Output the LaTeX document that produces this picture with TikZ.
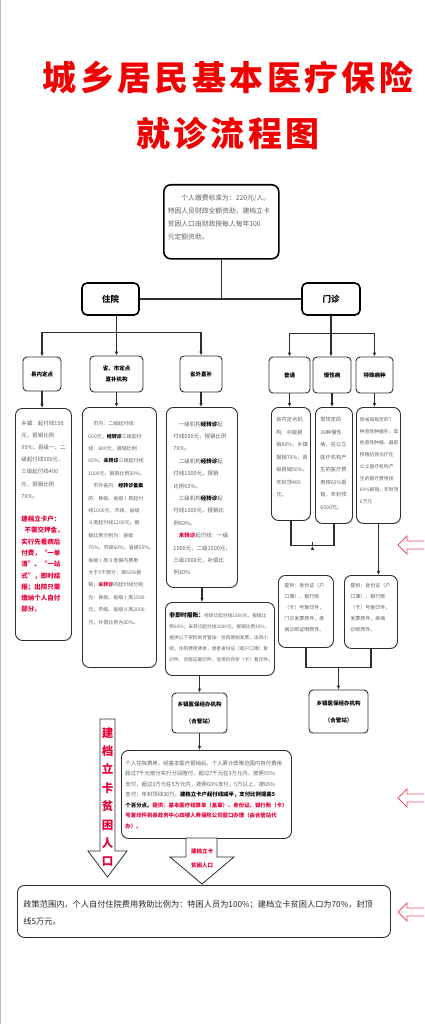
\documentclass[tikz,border=0pt]{standalone}
\usepackage{fontspec}
\newfontfamily\cjk{Noto Sans CJK SC}
\usetikzlibrary{arrows.meta,calc}

\definecolor{titlered}{RGB}{240,0,0}
\definecolor{notered}{RGB}{230,0,55}
\definecolor{txtgray}{RGB}{95,95,95}
\definecolor{linegray}{RGB}{45,45,45}
\definecolor{pinkarrow}{RGB}{235,80,105}

\newcommand{\boxtxt}[3]{\parbox[c][#2][t]{#1}{#3}}

\begin{document}
\begin{tikzpicture}
[x=1pt,y=-1pt,
 maintitle/.style={text=titlered,inner sep=0pt,font=\cjk\bfseries\fontsize{34}{36}\selectfont},
 headbox/.style={draw=black,line width=1.6pt,rounded corners=5pt,fill=white,
   inner sep=0pt,font=\cjk\bfseries\fontsize{8.5}{10}\selectfont},
 catbox/.style={draw=linegray,line width=0.9pt,rounded corners=4pt,inner sep=0pt,
   align=center,font=\cjk\bfseries\fontsize{5.5}{11}\selectfont},
 textbox/.style={draw=linegray,line width=0.9pt,rounded corners=7pt,anchor=north west,
   inner ysep=10pt,text=txtgray},
 link/.style={draw=linegray,line width=1.1pt},
 arr/.style={link,-{Latex[length=4pt,width=3.5pt]}},
 blockarrow/.style={draw=linegray,line width=0.8pt,fill=white},
 redword/.style={text=notered,inner sep=0pt,align=center}]
  \useasboundingbox (0,0) rectangle (424,1024);
  \draw[gray!55,line width=1pt] (0.5,0) -- (0.5,1024);

  % title
  \node[maintitle] (title1) at (228,77) {\addfontfeature{LetterSpace=10}城乡居民基本医疗保险};
  \node[maintitle] (title2) at (228,134) {\addfontfeature{LetterSpace=10}就诊流程图};

  % top box
  \node[textbox,draw=black,line width=1.6pt,inner xsep=4pt,font=\cjk\fontsize{6.8}{13}\selectfont] (topbox) at (163,184)
    {\boxtxt{107pt}{54pt}{\hspace*{2em}个人缴费标准为：220元/人。\\特困人员财政全额资助，建档立卡\\贫困人口由财政按每人每年100\\元定额资助。}};

  \node[headbox,minimum width=57pt,minimum height=32pt] (zhuyuan) at (110.5,299) {住院};
  \node[headbox,minimum width=58pt,minimum height=32pt] (menzhen) at (331,299) {门诊};

  % second level
  \node[catbox,minimum width=38pt,minimum height=34pt] (xiannei) at (42,374) {县内定点};
  \node[catbox,minimum width=53pt,minimum height=36pt] (shengshi) at (116.5,374) {省、市定点\\直补机构};
  \node[catbox,minimum width=42pt,minimum height=36pt] (shengwai) at (201,374) {省外直补};
  \node[catbox,minimum width=41pt,minimum height=36pt] (putong) at (289.5,375) {普通};
  \node[catbox,minimum width=38pt,minimum height=36pt] (manxing) at (332,375) {慢性病};
  \node[catbox,minimum width=37pt,minimum height=36pt] (teshu) at (374.5,375) {特殊病种};

  % 住院 text boxes
  \node[textbox,inner xsep=6pt,font=\cjk\fontsize{5.5}{12.2}\selectfont] (t_xiannei) at (15,408)
    {\boxtxt{44pt}{212pt}{\vspace*{2pt}乡镇：起付线150\\元，报销比例\\90\%；县级一、二\\级起付线300元，\\三级起付线400\\元，报销比例\\70\%。\par\vspace{12pt}
     {\color{notered}\bfseries\fontsize{6.5}{11.3}\selectfont 建档立卡户：\\\hspace*{0.5em}不需交押金，\\实行先看病后\\付费，“一单\\清”、“一站\\式”，即时结\\报；出院只需\\缴纳个人自付\\部分。\par}}};
  \node[textbox,inner xsep=6pt,font=\cjk\fontsize{5}{12.4}\selectfont] (t_shengshi) at (82,407)
    {\boxtxt{62pt}{240pt}{\vspace*{4pt}\hspace*{1em}市内：二级起付线：\\600元；{\color{black}\bfseries 经转诊}三级起付\\线：800元，报销比例\\65\%；{\color{black}\bfseries 未转诊}三级起付线\\1000元，报销比例30\%。\\
     \hspace*{1em}市外省内：{\color{black}\bfseries 经转诊备案}\\的：县级、省级Ⅰ类起付\\线1000元，市级、省级\\Ⅱ类起付线1200元；报\\销比例分别为：县级\\70\%，市级60\%，省级55\%。\\省级Ⅰ类Ⅱ类保内费用\\大于5千部分，按65\%报\\销；{\color{notered}\bfseries 未转诊}的起付线分别\\为：县级、省级Ⅰ类1500\\元，市级、省级Ⅱ类2000\\元，补偿比例为30\%。}};
  \node[textbox,inner xsep=7pt,font=\cjk\fontsize{5.5}{12.4}\selectfont] (t_shengwai) at (166,407)
    {\boxtxt{57pt}{160pt}{\vspace*{4pt}\hspace*{1em}一级机构{\color{black}\bfseries 经转诊}起\\付线500元，报销比例\\70\%。\\\hspace*{1em}二级机构{\color{black}\bfseries 经转诊}起\\付线1000元，报销\\比例65\%。\\\hspace*{1em}三级机构{\color{black}\bfseries 经转诊}起\\付线1500元，报销比\\例60\%。\\
     \hspace*{1em}{\color{notered}\bfseries 未转诊}起付线：一级\\1000元，二级1500元，\\三级2000元，补偿比\\例30\%}};
  \node[textbox,inner xsep=4pt,font=\cjk\fontsize{4.7}{11}\selectfont] (feijishi) at (165,602)
    {\boxtxt{101pt}{53pt}{{\color{black}\bfseries\fontsize{5.8}{11}\selectfont 非即时报账：}经转诊起付线1500元，报销比\\例60\%；未转诊起付线2000元，报销比例30\%，\\提供以下资料到合管站：住院原始发票，出院小\\结，住院费用清单，患者身份证（或户口簿）复\\印件，合医证复印件，信用社存折（卡）复印件。}};
  \node[catbox,minimum width=55pt,minimum height=40pt,font=\cjk\bfseries\fontsize{5.5}{17}\selectfont] (xiangzhen1) at (199.5,713) {乡镇医保经办机构\\（合管站）};
  \node[textbox,inner xsep=4pt,font=\cjk\fontsize{5.4}{10.5}\selectfont] (bigbox) at (121,750)
    {\boxtxt{162pt}{68pt}{个人住院费用，经基本医疗报销后，个人累计政策范围内自付费用\\超过7千元部分实行分段赔付，超过7千元在3万元内，按照55\%\\支付，超过3万元在5万元内，按照60\%支付，5万以上，按65\%\\支付；年封顶线30万。{\color{black}\bfseries 建档立卡户起付线减半，支付比例提高5}\\
     {\color{black}\bfseries 个百分点。}{\color{notered}\bfseries 提供：基本医疗结算单（盖章）、身份证、银行账（卡）}\\{\color{notered}\bfseries 号复印件到县政务中心四楼人寿保险公司窗口办理（由合管站代}\\{\color{notered}\bfseries 办）。}}};

  % 门诊 text boxes
  \node[textbox,inner xsep=5pt,font=\cjk\fontsize{5.2}{12.5}\selectfont] (t_putong) at (271,407)
    {\boxtxt{29pt}{93pt}{县内定点机\\构：村级报\\销80\%，乡镇\\报销70\%，县\\级报销50\%，\\年封顶400\\元。}};
  \node[textbox,inner xsep=5pt,font=\cjk\fontsize{5.2}{12.5}\selectfont] (t_manxing) at (315,407)
    {\boxtxt{27pt}{96pt}{患规定的\\36种慢性\\病，在公立\\医疗机构产\\生的医疗费\\用按60\%报\\销，年封顶\\6000元。}};
  \node[textbox,inner xsep=3.5pt,font=\cjk\fontsize{4.8}{11.7}\selectfont] (t_teshu) at (356,407)
    {\boxtxt{37pt}{96pt}{除省级规定的7\\种恶性肿瘤外，其\\他恶性肿瘤、器官\\移植抗排治疗在\\公立医疗机构产\\生的医疗费用按\\60\%报销，年封顶\\6万元}};
  \node[textbox,inner xsep=6pt,inner ysep=8pt,font=\cjk\fontsize{5}{11}\selectfont] (tigong1) at (278,575)
    {\boxtxt{43pt}{56pt}{提供：身份证（户\\口簿）、银行账\\（卡）号复印件，\\门诊发票原件，疾\\病诊断证明原件。}};
  \node[textbox,inner xsep=6pt,inner ysep=8pt,font=\cjk\fontsize{5}{11}\selectfont] (tigong2) at (344,575)
    {\boxtxt{41pt}{57pt}{提供：身份证（户\\口簿）、银行账\\（卡）号复印件，\\发票原件，疾病\\诊断原件。}};
  \node[catbox,minimum width=59pt,minimum height=43pt,font=\cjk\bfseries\fontsize{5.5}{17}\selectfont] (xiangzhen2) at (338.5,711.5) {乡镇医保经办机构\\（合管站）};

  % bottom box
  \node[textbox,inner xsep=6pt,text=black!85,font=\cjk\fontsize{8.2}{17}\selectfont] (bottombox) at (17,885)
    {\boxtxt{361pt}{32pt}{\vspace*{5pt}政策范围内，个人自付住院费用救助比例为：特困人员为100\%；建档立卡贫困人口为70\%，封顶\\线5万元。}};

  % connectors
  \draw[link] (topbox.south) -- (topbox.south |- zhuyuan.east);
  \draw[link] (zhuyuan.east) -- (menzhen.west);
  \coordinate (zyfork) at ($(zhuyuan.south -| shengshi.north)+(0,17)$);
  \draw[arr] (zhuyuan.south -| shengshi.north) -- (shengshi.north);
  \draw[arr] (zyfork) -| (xiannei.north);
  \draw[arr] (zyfork) -| (shengwai.north);
  \draw[arr] (xiannei.south) -- (xiannei.south |- t_xiannei.north);
  \draw[arr] (shengshi.south) -- (shengshi.south |- t_shengshi.north);
  \draw[arr] (shengwai.south) -- (shengwai.south |- t_shengwai.north);
  \draw[arr] (t_shengwai.south) -- (t_shengwai.south |- feijishi.north);
  \draw[arr] (xiangzhen1.north |- feijishi.south) -- (xiangzhen1.north);
  \draw[arr] (xiangzhen1.south) -- (xiangzhen1.south |- bigbox.north);

  \coordinate (mzfork) at ($(menzhen.south)+(0,18)$);
  \draw[arr] (menzhen.south) -- (menzhen.south |- manxing.north);
  \draw[arr] (mzfork) -| (putong.north);
  \draw[arr] (mzfork) -| (teshu.north);
  \draw[arr] (putong.south) -- (putong.south |- t_putong.north);
  \draw[arr] (manxing.south) -- (manxing.south |- t_manxing.north);
  \draw[arr] (teshu.south) -- (teshu.south |- t_teshu.north);
  \draw[link] (t_putong.south) -- ++(0,25) coordinate (pmjoin) -| (t_manxing.south);
  \draw[arr] ($(pmjoin)!0.5!(pmjoin -| t_manxing.south)$) -- ($(pmjoin)!0.5!(pmjoin -| t_manxing.south)$ |- tigong1.north);
  \draw[arr] (t_teshu.south) -- (t_teshu.south |- tigong2.north);
  \draw[link] (tigong1.south) -- ++(0,20) coordinate (tgjoin) -| (tigong2.south);
  \draw[arr] (tgjoin -| xiangzhen2.north) -- (xiangzhen2.north);

  % block arrows
  \draw[blockarrow] (100,719) -- (115,719) -- (115,851) -- (127,851) -- (107.5,877)
    -- (88,851) -- (100,851) -- cycle;
  \node[redword,font=\cjk\bfseries\fontsize{11.5}{18.4}\selectfont] (pkleft) at (107.5,797)
    {建\\档\\立\\卡\\贫\\困\\人\\口};
  \draw[blockarrow] (186,838) -- (217,838) -- (217,857) -- (234,857) -- (202,884)
    -- (170,857) -- (186,857) -- cycle;
  \node[redword,font=\cjk\bfseries\fontsize{5.5}{14}\selectfont] (pkmid) at (202,858) {建档立卡\\贫困人口};

  % side arrows
  \foreach \ya in {545,798,912}
    \draw[pinkarrow,line width=0.8pt] (424,\ya-4) -- (407,\ya-4) -- (407,\ya-9) -- (398,\ya)
      -- (407,\ya+9) -- (407,\ya+4) -- (424,\ya+4);
\end{tikzpicture}
\end{document}
